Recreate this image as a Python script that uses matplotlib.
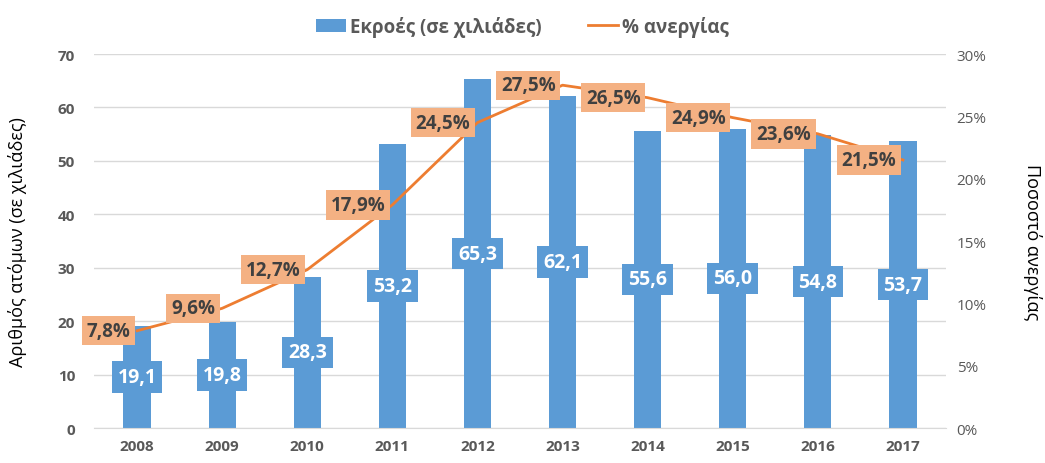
import matplotlib.pyplot as plt
import numpy as np

plt.rcParams['font.family'] = ['Open Sans', 'DejaVu Sans']

# data
years = ['2008', '2009', '2010', '2011', '2012', '2013', '2014', '2015', '2016', '2017']
outflows = [19.1, 19.8, 28.3, 53.2, 65.3, 62.1, 55.6, 56.0, 54.8, 53.7]
unemployment = [7.8, 9.6, 12.7, 17.9, 24.5, 27.5, 26.5, 24.9, 23.6, 21.5]

bar_color = '#5B9BD5'
line_color = '#ED7D31'
box_color = '#F4B183'
text_color = '#404040'

fig = plt.figure(figsize=(10.45, 4.64), dpi=100)
ax = fig.add_axes([0.0904, 0.0754, 0.8144, 0.806])
ax2 = ax.twinx()

x = np.arange(len(years))
bars = ax.bar(x, outflows, width=0.32, color=bar_color, zorder=2, label='Εκροές (σε χιλιάδες)')
ax.set_xlim(-0.5, len(years) - 0.5)
ax.set_ylim(0, 70)
ax.set_yticks(range(0, 71, 10))
ax.grid(axis='y', color='#D9D9D9', linewidth=1, zorder=0)
ax.set_axisbelow(True)
for s in ax.spines.values():
    s.set_visible(False)
for s in ax2.spines.values():
    s.set_visible(False)
ax.spines['bottom'].set_visible(True)
ax.spines['bottom'].set_color('#D9D9D9')
ax.tick_params(length=0, labelsize=11, labelcolor='#595959', pad=8)
ax.tick_params(axis='y', pad=14)
ax.set_xticks(x)
ax.set_xticklabels(years, fontweight='bold')
for lab in ax.get_yticklabels():
    lab.set_fontweight('bold')
ax.set_ylabel('Αριθμός ατόμων (σε χιλιάδες)', fontsize=13, color='black', labelpad=22)

# bar labels in the middle of each bar
for xi, v in zip(x, outflows):
    ax.text(xi, v / 2, f'{v:.1f}'.replace('.', ','), ha='center', va='center',
            fontsize=14, fontweight='bold', color='white', zorder=3,
            bbox=dict(boxstyle='square,pad=0.3', fc=bar_color, ec='none'))

line, = ax2.plot(x, unemployment, color=line_color, linewidth=2, zorder=3, label='% ανεργίας')
ax2.set_ylim(0, 30)
ax2.set_yticks(range(0, 31, 5))
ax2.set_yticklabels([f'{t}%' for t in range(0, 31, 5)])
ax2.tick_params(length=0, labelsize=11, labelcolor='#595959', pad=8)
ax2.set_ylabel('Ποσοστό ανεργίας', fontsize=13, color='black', rotation=270, labelpad=40)

# line labels to the left of each point
for xi, v in zip(x, unemployment):
    ax2.annotate(f'{v:.1f}%'.replace('.', ','), (xi, v), xytext=(-5, 0),
                 textcoords='offset points', ha='right', va='center',
                 fontsize=13.5, fontweight='bold', color=text_color, zorder=4,
                 bbox=dict(boxstyle='square,pad=0.25', fc=box_color, ec='none'))

fig.legend(handles=[bars, line], loc='upper center', bbox_to_anchor=(0.5, 1.0),
           ncol=2, frameon=False, handlelength=1.6,
           columnspacing=2.5, handletextpad=0.2, labelcolor='#595959',
           prop={'weight': 'bold', 'size': 13.5})

fig.savefig('out.png', dpi=100)
